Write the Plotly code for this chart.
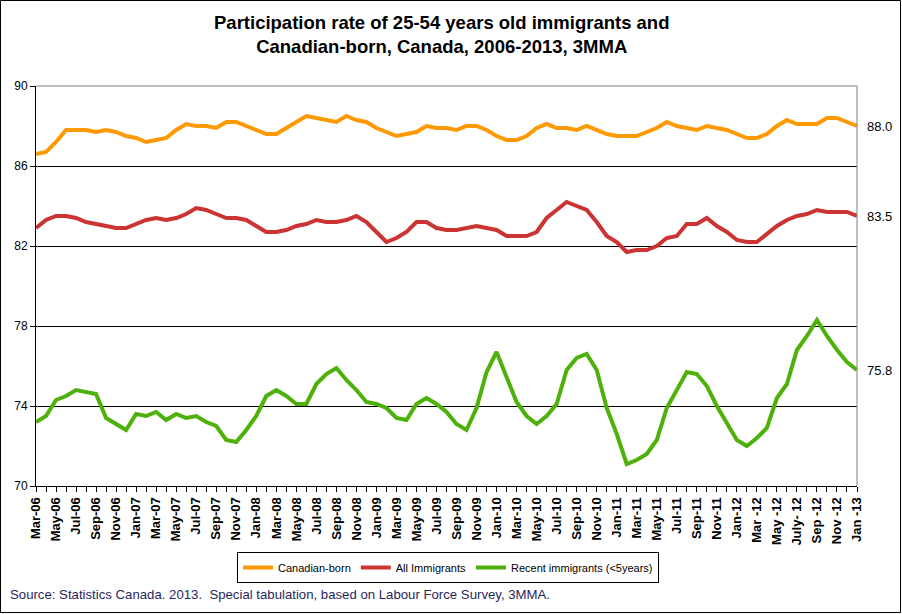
import plotly.graph_objects as go

# month categories, Mar-06 .. Jan-13 (every other one is labelled on the axis)
months = [
    "Mar-06", "Apr-06", "May-06", "Jun-06", "Jul-06", "Aug-06", "Sep-06", "Oct-06", "Nov-06", "Dec-06",
    "Jan-07", "Feb-07", "Mar-07", "Apr-07", "May-07", "Jun-07", "Jul-07", "Aug-07", "Sep-07", "Oct-07", "Nov-07", "Dec-07",
    "Jan-08", "Feb-08", "Mar-08", "Apr-08", "May-08", "Jun-08", "Jul-08", "Aug-08", "Sep-08", "Oct-08", "Nov-08", "Dec-08",
    "Jan-09", "Feb-09", "Mar-09", "Apr-09", "May-09", "Jun-09", "Jul-09", "Aug-09", "Sep-09", "Oct-09", "Nov-09", "Dec-09",
    "Jan-10", "Feb-10", "Mar-10", "Apr-10", "May-10", "Jun-10", "Jul-10", "Aug-10", "Sep-10", "Oct-10", "Nov-10", "Dec-10",
    "Jan-11", "Feb-11", "Mar-11", "Apr-11", "May-11", "Jun-11", "Jul-11", "Aug-11", "Sep-11", "Oct-11", "Nov-11", "Dec-11",
    "Jan-12", "Feb -12", "Mar -12", "Apr -12", "May -12", "June- 12", "July- 12", "Aug -12", "Sep -12", "Oct -12", "Nov -12", "Dec -12",
    "Jan -13",
]

canadian_born = [
    86.6, 86.7, 87.2, 87.8, 87.8, 87.8, 87.7, 87.8, 87.7, 87.5, 87.4, 87.2, 87.3, 87.4,
    87.8, 88.1, 88.0, 88.0, 87.9, 88.2, 88.2, 88.0, 87.8, 87.6, 87.6, 87.9, 88.2, 88.5,
    88.4, 88.3, 88.2, 88.5, 88.3, 88.2, 87.9, 87.7, 87.5, 87.6, 87.7, 88.0, 87.9, 87.9,
    87.8, 88.0, 88.0, 87.8, 87.5, 87.3, 87.3, 87.5, 87.9, 88.1, 87.9, 87.9, 87.8,
    88.0, 87.8, 87.6, 87.5, 87.5, 87.5, 87.7, 87.9, 88.2, 88.0, 87.9, 87.8, 88.0, 87.9,
    87.8, 87.6, 87.4, 87.4, 87.6, 88.0, 88.3, 88.1, 88.1, 88.1, 88.4, 88.4, 88.2, 88.0,
]

all_immigrants = [
    82.9, 83.3, 83.5, 83.5, 83.4, 83.2, 83.1, 83.0, 82.9, 82.9, 83.1, 83.3, 83.4, 83.3,
    83.4, 83.6, 83.9, 83.8, 83.6, 83.4, 83.4, 83.3, 83.0, 82.7, 82.7, 82.8, 83.0, 83.1,
    83.3, 83.2, 83.2, 83.3, 83.5, 83.2, 82.7, 82.2, 82.4, 82.7, 83.2, 83.2, 82.9, 82.8,
    82.8, 82.9, 83.0, 82.9, 82.8, 82.5, 82.5, 82.5, 82.7, 83.4, 83.8, 84.2, 84.0,
    83.8, 83.2, 82.5, 82.2, 81.7, 81.8, 81.8, 82.0, 82.4, 82.5, 83.1, 83.1, 83.4, 83.0,
    82.7, 82.3, 82.2, 82.2, 82.6, 83.0, 83.3, 83.5, 83.6, 83.8, 83.7, 83.7, 83.7, 83.5,
]

recent_immigrants = [
    73.2, 73.5, 74.3, 74.5, 74.8, 74.7, 74.6, 73.4, 73.1, 72.8, 73.6, 73.5, 73.7, 73.3,
    73.6, 73.4, 73.5, 73.2, 73.0, 72.3, 72.2, 72.8, 73.5, 74.5, 74.8, 74.5, 74.1, 74.1,
    75.1, 75.6, 75.9, 75.3, 74.8, 74.2, 74.1, 73.9, 73.4, 73.3, 74.1, 74.4, 74.1, 73.7,
    73.1, 72.8, 73.9, 75.7, 76.7, 75.5, 74.2, 73.5, 73.1, 73.5, 74.1, 75.8, 76.4,
    76.6, 75.8, 73.9, 72.6, 71.1, 71.3, 71.6, 72.3, 73.9, 74.8, 75.7, 75.6, 75.0, 74.0,
    73.1, 72.3, 72.0, 72.4, 72.9, 74.4, 75.1, 76.8, 77.5, 78.3, 77.5, 76.8, 76.2, 75.8,
]

series_names = ["Canadian-born", "All Immigrants", "Recent immigrants (<5years)"]
series_colors = ["#FF9900", "#CC3333", "#4DB10A"]
y_ticks = [70, 74, 78, 82, 86, 90]

W, H = 902, 614
L, R, T, B = 36, 45, 86, 128
PW, PH = W - L - R, H - T - B


def px_x(x):
    return (x - L) / PW


def px_y(y):
    return (H - B - y) / PH


FONT = "Arial, Liberation Sans, sans-serif"
xs = list(range(len(months)))

fig = go.Figure()
for name, vals, col in zip(series_names, [canadian_born, all_immigrants, recent_immigrants], series_colors):
    fig.add_trace(go.Scatter(x=xs, y=vals, name=name, mode="lines",
                             line=dict(color=col, width=4)))
    # value of last month at the right end
    fig.add_annotation(x=xs[-1], y=vals[-1], text="%.1f" % vals[-1], showarrow=False,
                       xanchor="left", xshift=8, font=dict(size=13, color="black", family=FONT))

fig.update_layout(
    width=W, height=H,
    margin=dict(l=L, r=R, t=T, b=B),
    paper_bgcolor="white", plot_bgcolor="white",
    font=dict(family=FONT, color="black"),
    showlegend=True,
    legend=dict(orientation="h", x=px_x(448), xanchor="center", y=px_y(552), yanchor="top",
                bordercolor="black", borderwidth=1, font=dict(size=11, family=FONT),
                itemwidth=30, tracegroupgap=0),
)

# chart title
fig.add_annotation(xref="paper", yref="paper", x=px_x(441), y=px_y(10), xanchor="center", yanchor="top",
                   text="<b>Participation rate of 25-54 years old immigrants and<br>Canadian-born, Canada, 2006-2013, 3MMA</b>",
                   showarrow=False, font=dict(size=18.5, color="black", family=FONT))

fig.update_xaxes(range=[0, len(months) - 1], tickmode="array", tickvals=xs,
                 ticktext=["<b>%s</b>" % m if i % 2 == 0 else "" for i, m in enumerate(months)],
                 tickangle=-90, tickfont=dict(size=13, family=FONT, color="black"),
                 ticks="outside", ticklen=5, tickcolor="black",
                 showline=True, linecolor="black", linewidth=1, showgrid=False, zeroline=False)

fig.update_yaxes(range=[70, 90], tickmode="array", tickvals=y_ticks,
                 tickfont=dict(size=12, family=FONT, color="black"),
                 ticks="outside", ticklen=5, tickcolor="black",
                 showline=True, linecolor="black", linewidth=1,
                 showgrid=True, gridcolor="black", gridwidth=1, zeroline=False)

# grey top and right edges of the plot area
fig.add_shape(type="line", xref="paper", yref="paper", x0=0, x1=1, y0=1, y1=1,
              line=dict(color="#808080", width=1), layer="above")
fig.add_shape(type="line", xref="paper", yref="paper", x0=1, x1=1, y0=0, y1=1,
              line=dict(color="#808080", width=1), layer="above")
# frame around the whole chart
fig.add_shape(type="rect", xref="paper", yref="paper",
              x0=px_x(0.5), x1=px_x(900.5), y0=px_y(612.5), y1=px_y(0.5),
              line=dict(color="black", width=1), layer="above")

fig.add_annotation(xref="paper", yref="paper", x=px_x(8), y=px_y(594), xanchor="left", yanchor="middle",
                   text="Source: Statistics Canada. 2013.\u00a0 Special tabulation, based on Labour Force Survey, 3MMA.",
                   showarrow=False, font=dict(size=13.2, color="#2B1F5C", family=FONT))

fig.write_html("out.html", config={"displayModeBar": False},
               post_script="document.body.style.margin='0';")
